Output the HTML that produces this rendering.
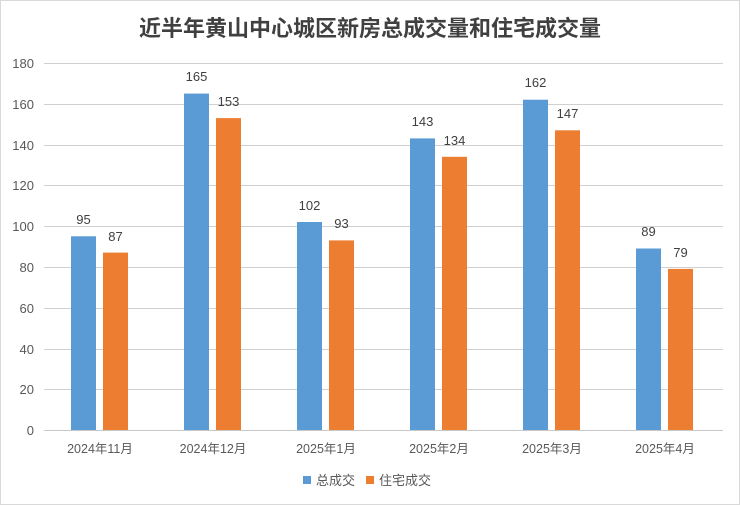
<html><body style="margin:0;width:740px;height:505px;background:#fff;font-family:'Liberation Sans','Noto Sans CJK SC',sans-serif;">
<svg width="740" height="505" xmlns="http://www.w3.org/2000/svg" style="display:block">
<rect x="0.5" y="0.5" width="739" height="504" fill="#fff" stroke="#d9d9d9"/>
<text x="370" y="36" text-anchor="middle" font-size="22" font-weight="bold" fill="#404040" font-family="'Liberation Sans','Noto Sans CJK SC',sans-serif">近半年黄山中心城区新房总成交量和住宅成交量</text>
<g stroke="#d0d0d0" stroke-width="1">
<line x1="44" x2="723" y1="63.5" y2="63.5"/>
<line x1="44" x2="723" y1="104.5" y2="104.5"/>
<line x1="44" x2="723" y1="145.5" y2="145.5"/>
<line x1="44" x2="723" y1="185.5" y2="185.5"/>
<line x1="44" x2="723" y1="226.5" y2="226.5"/>
<line x1="44" x2="723" y1="267.5" y2="267.5"/>
<line x1="44" x2="723" y1="308.5" y2="308.5"/>
<line x1="44" x2="723" y1="349.5" y2="349.5"/>
<line x1="44" x2="723" y1="389.5" y2="389.5"/>
</g>
<g font-size="13" fill="#595959" text-anchor="end" font-family="'Liberation Sans',sans-serif">
<text x="34" y="68">180</text><text x="34" y="109">160</text><text x="34" y="150">140</text><text x="34" y="190">120</text><text x="34" y="231">100</text><text x="34" y="272">80</text><text x="34" y="313">60</text><text x="34" y="354">40</text><text x="34" y="394">20</text><text x="34" y="435">0</text>
</g>
<g font-size="13" fill="#404040" text-anchor="middle" font-family="'Liberation Sans',sans-serif">
<rect x="71" y="236.3" width="25" height="193.7" fill="#5b9bd5"/><rect x="103" y="252.6" width="25" height="177.4" fill="#ed7d31"/>
<text x="83.5" y="224">95</text><text x="115.5" y="241">87</text>
<rect x="184" y="93.6" width="25" height="336.4" fill="#5b9bd5"/><rect x="216" y="118.1" width="25" height="311.9" fill="#ed7d31"/>
<text x="196.5" y="81">165</text><text x="228.5" y="106">153</text>
<rect x="297" y="222" width="25" height="208" fill="#5b9bd5"/><rect x="329" y="240.4" width="25" height="189.6" fill="#ed7d31"/>
<text x="309.5" y="210">102</text><text x="341.5" y="228">93</text>
<rect x="410" y="138.4" width="25" height="291.6" fill="#5b9bd5"/><rect x="442" y="156.8" width="25" height="273.2" fill="#ed7d31"/>
<text x="422.5" y="126">143</text><text x="454.5" y="145">134</text>
<rect x="523" y="99.7" width="25" height="330.3" fill="#5b9bd5"/><rect x="555" y="130.3" width="25" height="299.7" fill="#ed7d31"/>
<text x="535.5" y="87">162</text><text x="567.5" y="118">147</text>
<rect x="636" y="248.5" width="25" height="181.5" fill="#5b9bd5"/><rect x="668" y="268.9" width="25" height="161.1" fill="#ed7d31"/>
<text x="648.5" y="236">89</text><text x="680.5" y="257">79</text>
</g>
<line x1="44" x2="723" y1="430.5" y2="430.5" stroke="#c8c8c8"/>
<g font-size="12.5" fill="#595959" text-anchor="middle" font-family="'Liberation Sans','Noto Sans CJK SC',sans-serif">
<text x="100" y="453">2024年11月</text><text x="213" y="453">2024年12月</text><text x="326" y="453">2025年1月</text><text x="439" y="453">2025年2月</text><text x="552" y="453">2025年3月</text><text x="665" y="453">2025年4月</text>
</g>
<rect x="303" y="476" width="8" height="8" fill="#5b9bd5"/>
<text x="316" y="485" font-size="13" fill="#595959" font-family="'Liberation Sans','Noto Sans CJK SC',sans-serif">总成交</text>
<rect x="366" y="476" width="8" height="8" fill="#ed7d31"/>
<text x="379" y="485" font-size="13" fill="#595959" font-family="'Liberation Sans','Noto Sans CJK SC',sans-serif">住宅成交</text>
</svg>
</body></html>
